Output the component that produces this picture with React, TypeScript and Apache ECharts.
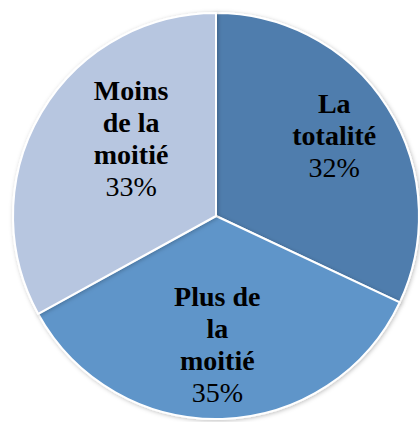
import React, { useEffect, useRef } from "react";
import * as echarts from "echarts";

const categories = ["La totalité", "Plus de la moitié", "Moins de la moitié"];
const wrappedNames = [["La", "totalité"], ["Plus de", "la", "moitié"], ["Moins", "de la", "moitié"]];
const values = [32, 35, 33];
const colors = ["#4f7dad", "#5f95c9", "#b7c6e0"];
const labelOffsets = [[30, -25], [-2, 24], [5, -24]];

export default function App() {
  const ref = useRef<HTMLDivElement>(null);
  useEffect(() => {
    if (!ref.current) return;
    const chart = echarts.init(ref.current, null, { renderer: "svg" });
    const font = "'Liberation Serif', 'DejaVu Serif', serif";
    chart.setOption({
      animation: false,
      backgroundColor: "#ffffff",
      series: [
        {
          type: "pie",
          center: [216, 216],
          radius: [0, 203],
          startAngle: 90,
          clockwise: true,
          silent: true,
          itemStyle: {
            borderColor: "#ffffff",
            borderWidth: 2,
            shadowColor: "rgba(0,0,0,0.25)",
            shadowBlur: 4,
            shadowOffsetX: 1,
            shadowOffsetY: 1,
          },
          label: {
            show: true,
            position: "inside",
            align: "center",
            formatter: (p: any) => {
              const lines = wrappedNames[p.dataIndex].map((l) => `{b|${l}}`);
              lines.push(`{p|${p.value}%}`);
              return lines.join("\n");
            },
            rich: {
              b: { fontFamily: font, fontWeight: "bold", fontSize: 28, lineHeight: 32, color: "#000", align: "center" },
              p: { fontFamily: font, fontSize: 28, lineHeight: 32, color: "#000", align: "center" },
            },
          },
          labelLine: { show: false },
          data: categories.map((name, i) => ({
            name,
            value: values[i],
            itemStyle: { color: colors[i] },
            label: { offset: labelOffsets[i] },
          })),
        },
      ],
    });
    return () => chart.dispose();
  }, []);
  return (
    <div
      ref={ref}
      style={{ position: "fixed", left: 0, top: 0, width: 420, height: 422 }}
    />
  );
}
